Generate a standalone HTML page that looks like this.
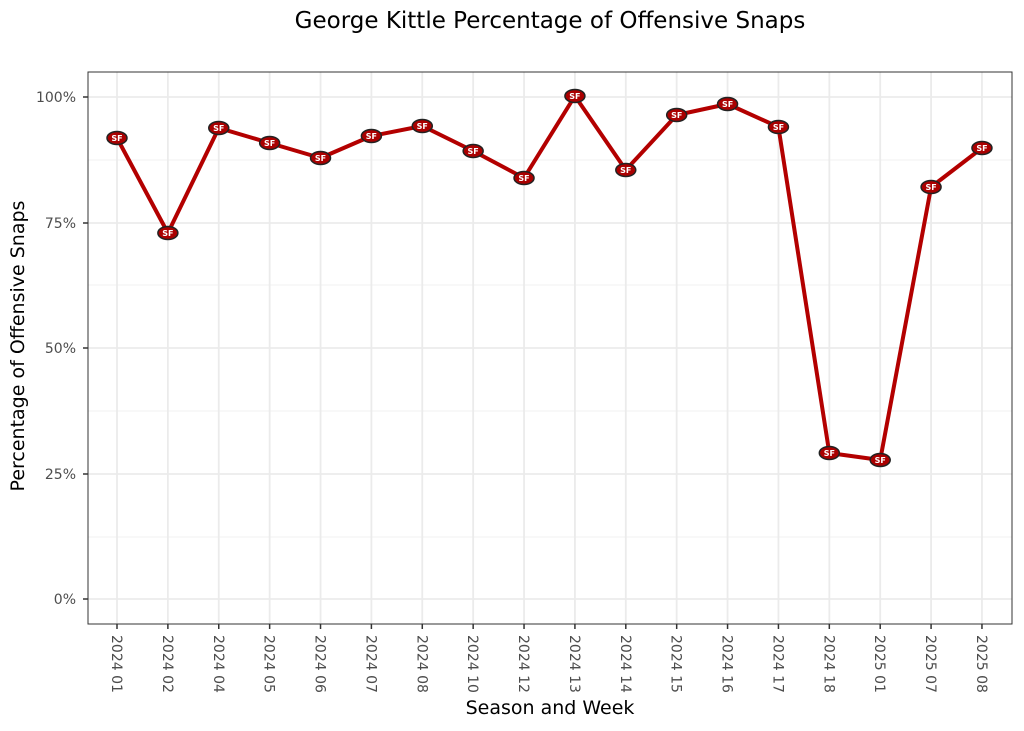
<!DOCTYPE html>
<html><head><meta charset="utf-8"><style>
html,body{margin:0;padding:0;background:#fff;}
svg{display:block;font-family:"DejaVu Sans","Liberation Sans",sans-serif;}
</style></head><body>
<svg width="1024" height="731" viewBox="0 0 1024 731" xmlns="http://www.w3.org/2000/svg">
<rect width="1024" height="731" fill="#fff"/>
<text x="550" y="28" font-size="23" text-anchor="middle" fill="#000">George Kittle Percentage of Offensive Snaps</text>
<g stroke="#ebebeb" stroke-width="0.8">
<line x1="88" x2="1012" y1="160" y2="160"/><line x1="88" x2="1012" y1="285" y2="285"/><line x1="88" x2="1012" y1="411" y2="411"/><line x1="88" x2="1012" y1="537" y2="537"/>
</g>
<g stroke="#ebebeb" stroke-width="1.8">
<line x1="88" x2="1012" y1="97" y2="97"/><line x1="88" x2="1012" y1="223" y2="223"/><line x1="88" x2="1012" y1="348" y2="348"/><line x1="88" x2="1012" y1="474" y2="474"/><line x1="88" x2="1012" y1="599" y2="599"/>
</g>
<g id="grid" stroke="#ebebeb" stroke-width="1.8"></g>
<rect x="88" y="72" width="924" height="552" fill="none" stroke="#333" stroke-width="1"/>
<g font-size="14" fill="#4d4d4d" text-anchor="end">
<text x="76" y="102">100%</text><text x="76" y="228">75%</text><text x="76" y="353">50%</text><text x="76" y="479">25%</text><text x="76" y="604">0%</text>
</g>
<g stroke="#333" stroke-width="1.5">
<line x1="83" x2="88" y1="97" y2="97"/><line x1="83" x2="88" y1="223" y2="223"/><line x1="83" x2="88" y1="348" y2="348"/><line x1="83" x2="88" y1="474" y2="474"/><line x1="83" x2="88" y1="599" y2="599"/>
</g>
<g id="xt"></g>
<g id="xl" font-size="14" fill="#4d4d4d"></g>
<polyline id="pl" fill="none" stroke="#b30000" stroke-width="4" stroke-linejoin="round"/>
<g id="mk"></g>
<text x="550" y="714" font-size="19" text-anchor="middle" fill="#000">Season and Week</text>
<text transform="translate(24,346) rotate(-90)" font-size="19" text-anchor="middle" fill="#000">Percentage of Offensive Snaps</text>
<script>
var labels=["2024 01","2024 02","2024 04","2024 05","2024 06","2024 07","2024 08","2024 10","2024 12","2024 13","2024 14","2024 15","2024 16","2024 17","2024 18","2025 01","2025 07","2025 08"];
var ys=[138,233,128,143,158,136,126,151,178,96,170,115,104,127,453,460,187,148];
var ns="http://www.w3.org/2000/svg";
function el(t,a,p){var e=document.createElementNS(ns,t);for(var k in a)e.setAttribute(k,a[k]);p.appendChild(e);return e;}
var g=document.getElementById("grid"),xt=document.getElementById("xt"),xl=document.getElementById("xl"),mk=document.getElementById("mk");
var pts=[];
for(var i=0;i<18;i++){
 var x=117+i*50.88;
 el("line",{x1:x,x2:x,y1:72,y2:624},g);
 el("line",{x1:x,x2:x,y1:624,y2:629,stroke:"#333","stroke-width":1.5},xt);
 var t=el("text",{transform:"translate("+(x-5)+",635) rotate(90)"},xl);t.textContent=labels[i];
 pts.push(x.toFixed(1)+","+ys[i]);
}
document.getElementById("pl").setAttribute("points",pts.join(" "));
for(var i=0;i<18;i++){
 var x=117+i*50.88,y=ys[i];
 el("ellipse",{cx:x,cy:y,rx:10,ry:6.5,fill:"#aa0000",stroke:"#222","stroke-width":1.5},mk);
 var t=el("text",{x:x,y:y+3,"font-size":8,"font-weight":"bold","text-anchor":"middle",fill:"#fff"},mk);t.textContent="SF";
}
</script>
</svg>
</body></html>
